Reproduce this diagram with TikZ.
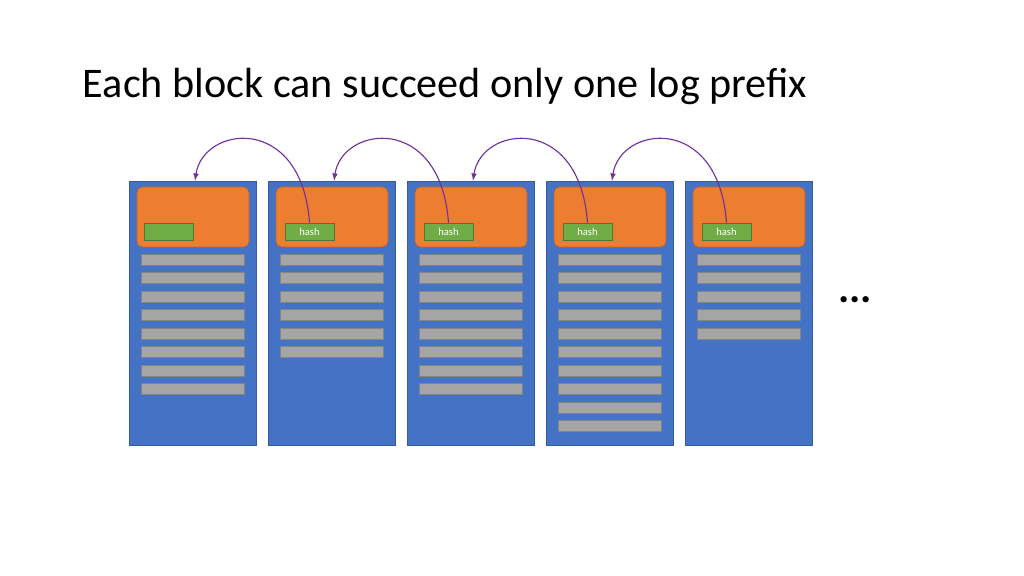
\documentclass[tikz,border=0pt]{standalone}
\usepackage{fontspec}
\setmainfont{Carlito}
\usetikzlibrary{positioning}
\definecolor{blockblue}{HTML}{4472C4}
\definecolor{headorange}{HTML}{ED7D31}
\definecolor{hashgreen}{HTML}{70AD47}
\definecolor{linkpurple}{HTML}{7030A0}
\definecolor{txgray}{HTML}{A5A5A5}
\begin{document}
\begin{tikzpicture}[x=0.025cm,y=-0.025cm,
  block/.style={draw=blockblue!80!black,fill=blockblue,minimum width=127*0.025cm,minimum height=264*0.025cm,inner sep=0pt},
  header/.style={draw=headorange!80!black,fill=headorange,rounded corners=4pt,minimum width=112*0.025cm,minimum height=60*0.025cm,inner sep=0pt},
  hashbox/.style={draw=hashgreen!70!black,fill=hashgreen,minimum width=49*0.025cm,minimum height=17*0.025cm,inner sep=0pt,font=\fontsize{7.5}{8}\selectfont,text=white},
  txbar/.style={draw=txgray!80!black,fill=txgray,minimum width=103*0.025cm,minimum height=11*0.025cm,inner sep=0pt},
  link/.style={thick,linkpurple,-latex}]
  \useasboundingbox (0,0) rectangle (1024,576);

  \node[anchor=west,font=\fontsize{30}{36}\selectfont] (title) at (78,86) {Each block can succeed only one log prefix};

  \foreach \i/\n in {1/8,2/6,3/8,4/10,5/5}{
    \node[block] (b\i) at ({192.5+139*(\i-1)},313) {};
    \node[header] (o\i) at ({193+139*(\i-1)},217) {};
    \foreach \k in {1,...,\n}
      \node[txbar] (t\i-\k) at ({192.5+139*(\i-1)},{259.5+18.5*(\k-1)}) {};
  }
  \node[hashbox] (h1) at (168.5,231.5) {};
  \foreach \i in {2,...,5}
    \node[hashbox] (h\i) at ({309.5+139*(\i-2)},231.5) {hash};

  \foreach \i/\j in {2/1,3/2,4/3,5/4}
    \draw[link] (h\i.north) .. controls +(-8,-110) and +(8,-55) .. ([xshift=2.5*0.025cm]b\j.north);

  \node[font=\fontsize{30}{36}\selectfont\bfseries] (more) at (855,300) {...};
\end{tikzpicture}
\end{document}
